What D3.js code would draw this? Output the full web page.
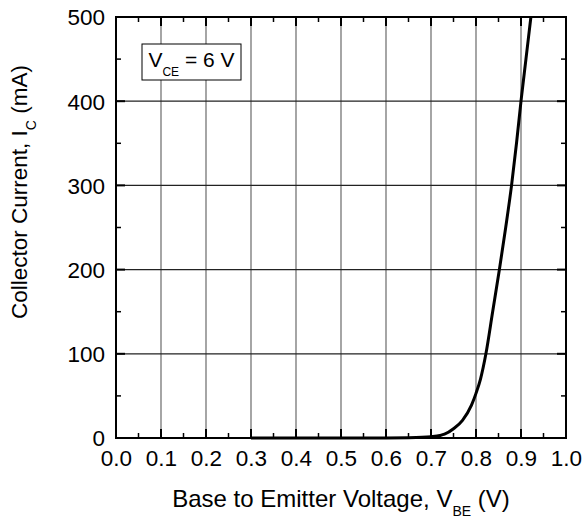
<!DOCTYPE html>
<html><head><meta charset="utf-8">
<script src="https://cdn.jsdelivr.net/npm/d3@7"></script>
<style>body{margin:0;background:#fff}svg{display:block}text{font-family:"Liberation Sans",Arial,sans-serif;fill:#000}</style>
</head><body><svg id="c" width="584" height="519"></svg>
<script>
const vbe = [0.30,0.40,0.50,0.60,0.65,0.68,0.70,0.72,0.73,0.75,0.77,0.79,0.80,0.81,0.822,0.837,0.852,0.866,0.879,0.89,0.90,0.911,0.922];
const ic  = [0,0,0,0.1,0.3,0.8,1.6,3,4.5,11,21,39,53,70,100,150,200,250,300,350,400,450,500];
const xTicks = [0,0.1,0.2,0.3,0.4,0.5,0.6,0.7,0.8,0.9,1.0];
const yTicks = [0,100,200,300,400,500];
const xLabel = "Base to Emitter Voltage, V";
const xSub = "BE";
const yLabel = "Collector Current, I";
const ySub = "C";
const legendMain = "V", legendSub = "CE", legendRest = " = 6 V";

const FONT = '"Liberation Sans",Arial,sans-serif';
const svg = d3.select("#c");
const L=116,R=566,T=17,B=438;
const x = d3.scaleLinear().domain([0,1]).range([L,R]);
const y = d3.scaleLinear().domain([0,500]).range([B,T]);

const g = svg.append("g");
g.selectAll(".vg").data(xTicks.slice(1,-1)).join("line")
 .attr("x1",d=>x(d)).attr("x2",d=>x(d)).attr("y1",T).attr("y2",B)
 .attr("stroke","#6a6a6a").attr("stroke-width",1.2);
g.selectAll(".hg").data(yTicks.slice(1,-1)).join("line")
 .attr("y1",d=>y(d)).attr("y2",d=>y(d)).attr("x1",L).attr("x2",R)
 .attr("stroke","#222").attr("stroke-width",1.2);

const xMinor = d3.range(0.05,1,0.1);
const yMinor = d3.range(50,500,100);
const tk = svg.append("g").attr("stroke","#000").attr("stroke-width",1.5);
xMinor.forEach(v=>{
  tk.append("line").attr("x1",x(v)).attr("x2",x(v)).attr("y1",B).attr("y2",B-5);
  tk.append("line").attr("x1",x(v)).attr("x2",x(v)).attr("y1",T).attr("y2",T+5);
});
xTicks.forEach(v=>{
  tk.append("line").attr("x1",x(v)).attr("x2",x(v)).attr("y1",B).attr("y2",B-9).attr("stroke-width",2);
  tk.append("line").attr("x1",x(v)).attr("x2",x(v)).attr("y1",T).attr("y2",T+9).attr("stroke-width",2);
});
yMinor.forEach(v=>{
  tk.append("line").attr("y1",y(v)).attr("y2",y(v)).attr("x1",L).attr("x2",L+5);
  tk.append("line").attr("y1",y(v)).attr("y2",y(v)).attr("x1",R).attr("x2",R-5);
});
yTicks.forEach(v=>{
  tk.append("line").attr("y1",y(v)).attr("y2",y(v)).attr("x1",L).attr("x2",L+9).attr("stroke-width",2);
  tk.append("line").attr("y1",y(v)).attr("y2",y(v)).attr("x1",R).attr("x2",R-9).attr("stroke-width",2);
});

const xa = svg.append("g").attr("transform",`translate(0,${B})`)
  .call(d3.axisBottom(x).tickValues(xTicks).tickFormat(d3.format(".1f")).tickSize(0));
xa.select(".domain").remove();
xa.selectAll("text").attr("font-size",22.5).style("font-family",FONT).attr("y",28).attr("dy",0);
const ya = svg.append("g").attr("transform",`translate(${L},0)`)
  .call(d3.axisLeft(y).tickValues(yTicks).tickSize(0));
ya.select(".domain").remove();
ya.selectAll("text").attr("font-size",22.5).style("font-family",FONT).attr("x",-11).attr("dy","0.35em");

svg.append("rect").attr("x",L).attr("y",T).attr("width",R-L).attr("height",B-T)
 .attr("fill","none").attr("stroke","#000").attr("stroke-width",2);

const data = vbe.map((v,i)=>[v,ic[i]]);
svg.append("path").datum(data)
 .attr("d",d3.line().x(d=>x(d[0])).y(d=>y(d[1])).curve(d3.curveMonotoneX))
 .attr("fill","none").attr("stroke","#000").attr("stroke-width",3);

svg.append("rect").attr("x",142).attr("y",44).attr("width",99).attr("height",36)
 .attr("fill","#fff").attr("stroke","#000").attr("stroke-width",1);
const lt = svg.append("text").attr("x",191.5).attr("y",67).attr("text-anchor","middle").attr("font-size",21);
lt.append("tspan").text(legendMain);
lt.append("tspan").text(legendSub).attr("font-size",12).attr("dy",9);
lt.append("tspan").text(legendRest).attr("dy",-9);

const xt = svg.append("text").attr("x",(L+R)/2).attr("y",507).attr("text-anchor","middle").attr("font-size",24);
xt.append("tspan").text(xLabel);
xt.append("tspan").text(xSub).attr("font-size",14).attr("dy",9);
xt.append("tspan").text(" (V)").attr("dy",-9);

const yt = svg.append("text").attr("transform",`translate(27,192) rotate(-90)`).attr("text-anchor","middle").attr("font-size",22.5);
yt.append("tspan").text(yLabel);
yt.append("tspan").text(ySub).attr("font-size",14).attr("dy",9);
yt.append("tspan").text(" (mA)").attr("dy",-9);
</script></body></html>
